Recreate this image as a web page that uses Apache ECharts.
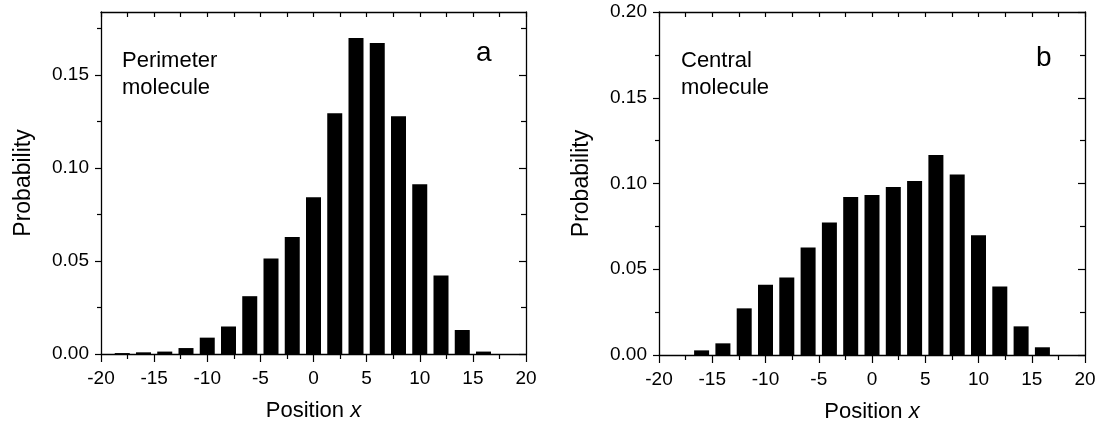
<!DOCTYPE html>
<html>
<head>
<meta charset="utf-8">
<script src="https://cdn.jsdelivr.net/npm/echarts@6/dist/echarts.min.js"></script>
<style>
  html, body { margin: 0; padding: 0; background: #fff; }
  #chart { width: 1099px; height: 422px; }
</style>
</head>
<body>
<div id="chart"></div>
<script>
// bin centres and probabilities
var positions = [-18, -16, -14, -12, -10, -8, -6, -4, -2, 0, 2, 4, 6, 8, 10, 12, 14, 16];
var probPerimeter = [0.0005, 0.0009, 0.0013, 0.0032, 0.0088, 0.0148, 0.0311, 0.0514, 0.063, 0.0843,
                     0.1295, 0.170, 0.1673, 0.1279, 0.0913, 0.0423, 0.0129, 0.0013];
var probCentral = [0, 0.0027, 0.0068, 0.0272, 0.0409, 0.0452, 0.0627, 0.0772, 0.0921, 0.0933,
                   0.098, 0.1015, 0.1166, 0.1053, 0.0698, 0.040, 0.0167, 0.0045];

var yMajorA = [0, 0.05, 0.10, 0.15];
var yMinorA = [0.025, 0.075, 0.125, 0.175];

(function() {
  var font = "'Liberation Sans', Arial, Helvetica, sans-serif";
  var ink = '#000';

  var chart = echarts.init(document.getElementById('chart'), null, { renderer: 'canvas' });

  var axisLine = { show: true, onZero: false, lineStyle: { color: ink, width: 1.3 } };
  var noLine = { show: false, onZero: false };
  var tickLbl = { color: ink, fontSize: 19, fontFamily: font };
  var xName = '{n|Position }{i|x}';
  var xNameStyle = {
    rich: {
      n: { fontSize: 22, fontFamily: font, color: ink },
      i: { fontSize: 22, fontFamily: font, color: ink, fontStyle: 'italic' }
    }
  };

  function bottomX(grid) {
    return {
      type: 'value', gridIndex: grid, position: 'bottom', min: -20, max: 20, interval: 5,
      axisLine: axisLine,
      axisTick: { show: true, length: 8, lineStyle: { color: ink, width: 1.2 } },
      minorTick: { show: true, splitNumber: 2, length: 5, lineStyle: { color: ink, width: 1.2 } },
      axisLabel: Object.assign({ margin: 15 }, tickLbl),
      splitLine: { show: false },
      name: xName, nameLocation: 'middle', nameGap: 46, nameTextStyle: xNameStyle
    };
  }
  function topX(grid) {
    return {
      type: 'value', gridIndex: grid, position: 'top', min: -20, max: 20, interval: 5,
      axisLine: axisLine,
      axisTick: { show: true, inside: true, length: 5, lineStyle: { color: ink, width: 1.2 } },
      minorTick: { show: true, splitNumber: 2, length: 5, lineStyle: { color: ink, width: 1.2 } },
      axisLabel: { show: false },
      splitLine: { show: false }
    };
  }
  var yName = {
    name: 'Probability', nameLocation: 'middle', nameGap: 66,
    nameTextStyle: { fontSize: 23, fontFamily: font, color: ink }
  };
  function fmt(v) { return v.toFixed(2); }

  chart.setOption({
    animation: false,
    backgroundColor: '#fff',
    grid: [
      { left: 101, top: 12, width: 425, height: 342, outerBoundsMode: 'none' },
      { left: 659, top: 12, width: 426, height: 343, outerBoundsMode: 'none' }
    ],
    xAxis: [bottomX(0), topX(0), bottomX(1), topX(1)],
    yAxis: [
      // panel a, left (major)
      Object.assign({
        type: 'value', gridIndex: 0, position: 'left', min: 0, max: 0.184,
        axisLine: axisLine,
        axisTick: { show: true, length: 6, customValues: yMajorA, lineStyle: { color: ink, width: 1.2 } },
        axisLabel: Object.assign({ margin: 12, customValues: yMajorA, formatter: fmt }, tickLbl),
        splitLine: { show: false }
      }, yName),
      // panel a, left (minor)
      {
        type: 'value', gridIndex: 0, position: 'left', min: 0, max: 0.184,
        axisLine: noLine,
        axisTick: { show: true, length: 4, customValues: yMinorA, lineStyle: { color: ink, width: 1.2 } },
        axisLabel: { show: false }, splitLine: { show: false }
      },
      // panel a, right (major)
      {
        type: 'value', gridIndex: 0, position: 'right', min: 0, max: 0.184,
        axisLine: axisLine,
        axisTick: { show: true, inside: true, length: 7, customValues: yMajorA, lineStyle: { color: ink, width: 1.2 } },
        axisLabel: { show: false }, splitLine: { show: false }
      },
      // panel a, right (minor)
      {
        type: 'value', gridIndex: 0, position: 'right', min: 0, max: 0.184,
        axisLine: noLine,
        axisTick: { show: true, inside: true, length: 5, customValues: yMinorA, lineStyle: { color: ink, width: 1.2 } },
        axisLabel: { show: false }, splitLine: { show: false }
      },
      // panel b, left
      Object.assign({
        type: 'value', gridIndex: 1, position: 'left', min: 0, max: 0.2, interval: 0.05,
        axisLine: axisLine,
        axisTick: { show: true, length: 6, lineStyle: { color: ink, width: 1.2 } },
        minorTick: { show: true, splitNumber: 2, length: 4, lineStyle: { color: ink, width: 1.2 } },
        axisLabel: Object.assign({ margin: 12, formatter: fmt }, tickLbl),
        splitLine: { show: false }
      }, yName),
      // panel b, right
      {
        type: 'value', gridIndex: 1, position: 'right', min: 0, max: 0.2, interval: 0.05,
        axisLine: axisLine,
        axisTick: { show: true, inside: true, length: 7, lineStyle: { color: ink, width: 1.2 } },
        minorTick: { show: true, splitNumber: 2, length: 5, lineStyle: { color: ink, width: 1.2 } },
        axisLabel: { show: false }, splitLine: { show: false }
      }
    ],
    graphic: [
      { type: 'text', left: 122, top: 47, style: { text: 'Perimeter\nmolecule', font: '22px ' + font, lineHeight: 27, fill: ink } },
      { type: 'text', left: 476, top: 39, style: { text: 'a', font: '28px ' + font, lineHeight: 28, fill: ink } },
      { type: 'text', left: 681, top: 47, style: { text: 'Central\nmolecule', font: '22px ' + font, lineHeight: 27, fill: ink } },
      { type: 'text', left: 1036, top: 44, style: { text: 'b', font: '28px ' + font, lineHeight: 28, fill: ink } }
    ],
    series: [
      {
        name: 'Perimeter', type: 'bar', xAxisIndex: 0, yAxisIndex: 0,
        data: positions.map(function(x, i) { return [x, probPerimeter[i]]; }),
        barWidth: 15, itemStyle: { color: ink }
      },
      {
        name: 'Central', type: 'bar', xAxisIndex: 2, yAxisIndex: 4,
        data: positions.map(function(x, i) { return [x, probCentral[i]]; }),
        barWidth: 15, itemStyle: { color: ink }
      }
    ]
  });
  window.addEventListener('resize', function() { chart.resize(); });
})();
</script>
</body>
</html>
